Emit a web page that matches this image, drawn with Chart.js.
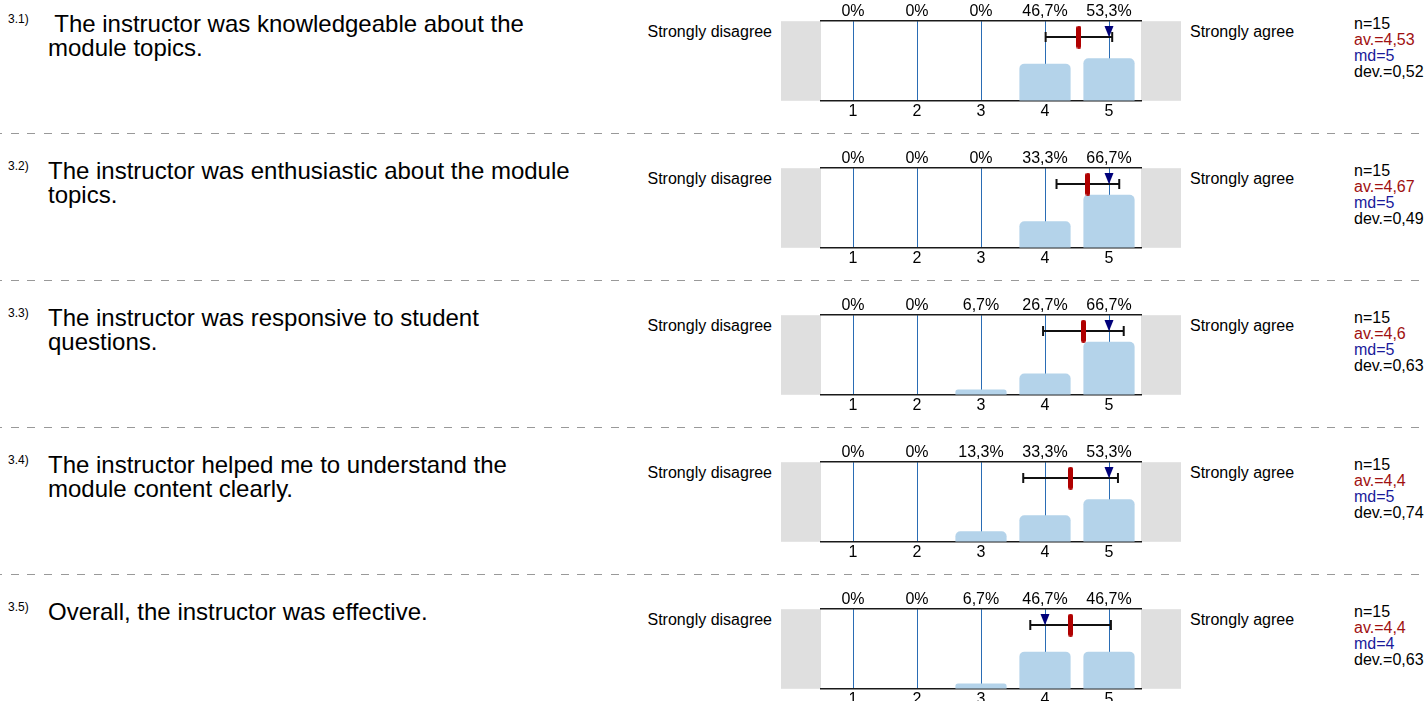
<!DOCTYPE html>
<html>
<head>
<meta charset="utf-8">
<script src="https://cdn.jsdelivr.net/npm/chart.js@4.4.1/dist/chart.umd.min.js"></script>
<style>
  html, body { margin: 0; padding: 0; background: #fff; overflow: hidden; }
  body { width: 1426px; height: 701px; position: relative; font-family: "Liberation Sans", Arial, sans-serif; color: #000; }
  .row { position: absolute; left: 0; width: 1426px; height: 147px; }
  .num { position: absolute; left: 8px; top: 12px; font-size: 12px; line-height: 14px; }
  .question { position: absolute; left: 48px; top: 12px; font-size: 24px; line-height: 24px; white-space: pre; }
  .pole { position: absolute; top: 22px; font-size: 16px; line-height: 19px; white-space: nowrap; }
  .pole.left { right: 654px; }
  .pole.right { left: 1190px; }
  .box { position: absolute; left: 781px; top: 0; width: 400px; height: 122px; }
  .stats { position: absolute; left: 1354px; top: 16px; font-size: 16px; line-height: 16px; white-space: nowrap; }
  .stats .av { color: #a01010; }
  .stats .md { color: #1a1a9a; }
  .sep { position: absolute; left: 0; top: 133px; width: 1426px; height: 1px;
    background: repeating-linear-gradient(90deg, #999 0 1.93px, transparent 1.93px 10.6px, #999 10.6px 16.667px); }
</style>
</head>
<body>
<script>
// Datas
const questionNumbers = ['3.1)', '3.2)', '3.3)', '3.4)', '3.5)'];
const questions = [
  [' The instructor was knowledgeable about the', 'module topics.'],
  ['The instructor was enthusiastic about the module', 'topics.'],
  ['The instructor was responsive to student', 'questions.'],
  ['The instructor helped me to understand the', 'module content clearly.'],
  ['Overall, the instructor was effective.']
];
const scaleLabels = ['1', '2', '3', '4', '5'];
const leftPole = 'Strongly disagree';
const rightPole = 'Strongly agree';

const percents1 = [0, 0, 0, 46.7, 53.3];
const percents2 = [0, 0, 0, 33.3, 66.7];
const percents3 = [0, 0, 6.7, 26.7, 66.7];
const percents4 = [0, 0, 13.3, 33.3, 53.3];
const percents5 = [0, 0, 6.7, 46.7, 46.7];
const percents = [percents1, percents2, percents3, percents4, percents5];

const counts = [15, 15, 15, 15, 15];
const means = [4.53, 4.67, 4.6, 4.4, 4.4];
const medians = [5, 5, 5, 5, 4];
const deviations = [0.52, 0.49, 0.63, 0.74, 0.63];

// level (in % of the bar axis) where the error bar, mean and median sit
const MARK_Y = 80;

Chart.defaults.font.family = '"Liberation Sans", Arial, sans-serif';
Chart.defaults.color = '#000';

const fmt = v => String(v).replace('.', ',');
const pctLabel = v => (v === 0 ? '0' : v.toFixed(1).replace('.', ',')) + '%';

// mean marker: red rounded pill
const meanMark = document.createElement('canvas');
meanMark.width = 5; meanMark.height = 23;
(function () {
  const c = meanMark.getContext('2d');
  c.fillStyle = '#b00000';
  c.beginPath();
  c.roundRect(0, 0, 5, 23, 2.5);
  c.fill();
})();

// median marker: down triangle, tip at the image centre
const medianMark = document.createElement('canvas');
medianMark.width = 10; medianMark.height = 22;
(function () {
  const c = medianMark.getContext('2d');
  c.fillStyle = '#00007a';
  c.beginPath();
  c.moveTo(0.5, 0); c.lineTo(9.5, 0); c.lineTo(5, 11);
  c.closePath();
  c.fill();
})();

// grey bands left and right of the plot
const sideBands = {
  id: 'sideBands',
  beforeDraw(chart) {
    const {ctx, chartArea: a} = chart;
    ctx.save();
    ctx.fillStyle = '#dfdfdf';
    ctx.fillRect(a.left - 40, a.top, 40, a.bottom - a.top);
    ctx.fillRect(a.right, a.top, 40, a.bottom - a.top);
    ctx.restore();
  }
};

questions.forEach((q, i) => {
  const row = document.createElement('div');
  row.className = 'row';
  row.style.top = (i * 147) + 'px';
  row.innerHTML =
    '<div class="num">' + questionNumbers[i] + '</div>' +
    '<div class="question">' + q.join('\n') + '</div>' +
    '<div class="pole left">' + leftPole + '</div>' +
    '<div class="box"><canvas></canvas></div>' +
    '<div class="pole right">' + rightPole + '</div>' +
    '<div class="stats">n=' + counts[i] +
      '<br><span class="av">av.=' + fmt(means[i]) + '</span>' +
      '<br><span class="md">md=' + fmt(medians[i]) + '</span>' +
      '<br>dev.=' + fmt(deviations[i]) + '</div>' +
    (i < questions.length - 1 ? '<div class="sep"></div>' : '');
  document.body.appendChild(row);

  const m = means[i], d = deviations[i];
  new Chart(row.querySelector('canvas'), {
    type: 'bar',
    data: {
      labels: scaleLabels,
      datasets: [
        {
          type: 'line', xAxisID: 'xs', order: 0, showLine: false,
          data: [{x: medians[i], y: MARK_Y}],
          pointStyle: medianMark
        },
        {
          type: 'line', xAxisID: 'xs', order: 1, showLine: false,
          data: [{x: m, y: MARK_Y}],
          pointStyle: meanMark
        },
        {
          type: 'line', xAxisID: 'xs', order: 2,
          data: [{x: m - d, y: MARK_Y}, {x: m + d, y: MARK_Y}],
          borderColor: '#111', borderWidth: 2,
          pointStyle: 'line', pointRotation: 90, pointRadius: 5,
          pointBorderWidth: 2, pointBorderColor: '#111'
        },
        {
          order: 3, xAxisID: 'x',
          data: percents[i],
          backgroundColor: '#b4d3ea',
          borderRadius: {topLeft: 5, topRight: 5},
          borderSkipped: 'start',
          grouped: false,
          barPercentage: 1,
          categoryPercentage: 0.8
        }
      ]
    },
    options: {
      responsive: true,
      maintainAspectRatio: false,
      animation: false,
      events: [],
      layout: {padding: {left: 40, right: 40, top: 2, bottom: 0}},
      plugins: {legend: {display: false}, tooltip: {enabled: false}},
      scales: {
        x: {
          type: 'category', position: 'bottom', offset: true, z: 1,
          grid: {offset: false, color: '#2a6cb4', lineWidth: 1, drawTicks: false},
          border: {color: '#1a1a1a', width: 1.5},
          ticks: {padding: 1, font: {size: 16}}
        },
        xTop: {
          type: 'category', position: 'top', offset: true,
          labels: percents[i].map(pctLabel),
          grid: {display: false, drawTicks: false},
          border: {color: '#1a1a1a', width: 1.5},
          ticks: {padding: 0, font: {size: 16}}
        },
        xs: {type: 'linear', display: false, offset: false, min: 0.5, max: 5.5},
        y: {display: false, min: 0, max: 100}
      }
    },
    plugins: [sideBands]
  });
});
</script>
</body>
</html>
